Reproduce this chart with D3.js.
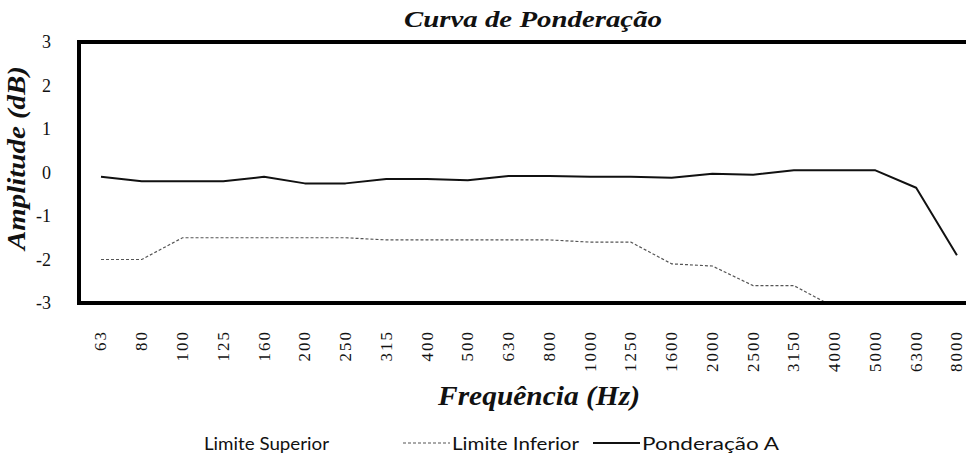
<!DOCTYPE html>
<html>
<head>
<meta charset="utf-8">
<script src="https://cdn.jsdelivr.net/npm/d3@7/dist/d3.min.js"></script>
<style>
  html, body { margin: 0; padding: 0; background: #fff; }
  svg { display: block; }
  .serif { font-family: "Liberation Serif", "Times New Roman", Tinos, Times, serif; }
</style>
</head>
<body>
<svg id="chart" width="966" height="467"></svg>
<script>
// Frequency bands (Hz) along the x axis
const frequencias = ["63","80","100","125","160","200","250","315","400","500","630","800",
                     "1000","1250","1600","2000","2500","3150","4000","5000","6300","8000"];

// Measured A-weighting deviation (dB)
const ponderacaoA = [-0.1,-0.2,-0.2,-0.2,-0.1,-0.25,-0.25,-0.15,-0.15,-0.18,-0.08,-0.08,
                     -0.1,-0.1,-0.12,-0.03,-0.05,0.05,0.05,0.05,-0.35,-1.9];

// Lower tolerance limit (dB); values below the axis floor are not shown
const limiteInferior = [-2.0,-2.0,-1.5,-1.5,-1.5,-1.5,-1.5,-1.55,-1.55,-1.55,-1.55,-1.55,
                        -1.6,-1.6,-2.1,-2.15,-2.6,-2.6,-3.1,null,null,null];

const yTicks = [-3,-2,-1,0,1,2,3];

const legendItems = [
  { label: "Limite Superior", stroke: "#ffffff", dash: null, width: 1 },
  { label: "Limite Inferior", stroke: "#555555", dash: "3,2", width: 1.2 },
  { label: "Ponderação  A",   stroke: "#111111", dash: null, width: 2 }
];

const svg = d3.select("#chart");

const plot = { left: 79, top: 42, right: 980, bottom: 303 };

const x = d3.scaleBand()
  .domain(frequencias)
  .range([80.6, 977.3]);

const y = d3.scaleLinear()
  .domain([-3, 3])
  .range([plot.bottom, plot.top]);

const cx = d => x(d) + x.bandwidth() / 2;

// Clip region = plot area
svg.append("defs").append("clipPath").attr("id", "area")
  .append("rect")
  .attr("x", plot.left).attr("y", plot.top)
  .attr("width", plot.right - plot.left).attr("height", plot.bottom - plot.top);

// Title
svg.append("text")
  .attr("class", "serif")
  .attr("x", 533).attr("y", 27)
  .attr("text-anchor", "middle")
  .attr("font-style", "italic").attr("font-weight", "bold")
  .attr("font-size", 23)
  .attr("textLength", 258).attr("lengthAdjust", "spacingAndGlyphs")
  .attr("fill", "#111")
  .text("Curva de Ponderação");

// Series lines
const line = d3.line()
  .defined(v => v != null)
  .x((v, i) => cx(frequencias[i]))
  .y(v => y(v));

const series = svg.append("g").attr("clip-path", "url(#area)");

series.append("path")
  .datum(limiteInferior)
  .attr("fill", "none")
  .attr("stroke", "#555")
  .attr("stroke-width", 1.2)
  .attr("stroke-dasharray", "3,2")
  .attr("d", line);

series.append("path")
  .datum(ponderacaoA)
  .attr("fill", "none")
  .attr("stroke", "#111")
  .attr("stroke-width", 2)
  .attr("stroke-linejoin", "round")
  .attr("d", line);

// Heavy plot frame (left, top, bottom)
svg.append("rect")
  .attr("x", plot.left).attr("y", plot.top)
  .attr("width", plot.right - plot.left).attr("height", plot.bottom - plot.top)
  .attr("fill", "none")
  .attr("stroke", "#000")
  .attr("stroke-width", 4);

// Y axis labels (plain hyphen for negatives)
const yAxis = d3.axisLeft(y).tickValues(yTicks).tickSize(0).tickPadding(0)
  .tickFormat(d => String(d));
const gy = svg.append("g").attr("transform", "translate(51,0)").call(yAxis);
gy.select(".domain").remove();
gy.selectAll("text")
  .attr("class", "serif")
  .attr("font-size", 18)
  .attr("fill", "#111");
gy.attr("font-family", null);

// Y axis title
svg.append("text")
  .attr("class", "serif")
  .attr("transform", "translate(25,158) rotate(-90)")
  .attr("text-anchor", "middle")
  .attr("font-style", "italic").attr("font-weight", "bold")
  .attr("font-size", 25)
  .attr("textLength", 184).attr("lengthAdjust", "spacingAndGlyphs")
  .attr("fill", "#111")
  .text("Amplitude (dB)");

// X axis labels (rotated)
const xAxis = d3.axisBottom(x).tickSize(0).tickPadding(0);
const gx = svg.append("g").attr("transform", "translate(0,330)").call(xAxis);
gx.select(".domain").remove();
gx.attr("font-family", null);
gx.selectAll("text")
  .attr("class", "serif")
  .attr("font-size", 17)
  .attr("letter-spacing", "2px")
  .attr("fill", "#111")
  .attr("text-anchor", "end")
  .attr("dy", null)
  .attr("y", 0)
  .attr("x", 0)
  .attr("dominant-baseline", "central")
  .attr("transform", "rotate(-90)");

// X axis title
svg.append("text")
  .attr("class", "serif")
  .attr("x", 539).attr("y", 405)
  .attr("text-anchor", "middle")
  .attr("font-style", "italic").attr("font-weight", "bold")
  .attr("font-size", 27)
  .attr("textLength", 202).attr("lengthAdjust", "spacingAndGlyphs")
  .attr("fill", "#111")
  .text("Frequência (Hz)");

// Legend
const legendX = [155, 403, 593];
const legendTextW = [125, 127, 137];
const lg = svg.append("g").attr("transform", "translate(0,443)");
legendItems.forEach((item, i) => {
  const g = lg.append("g").attr("transform", `translate(${legendX[i]},0)`);
  g.append("line")
    .attr("x1", 0).attr("x2", 47).attr("y1", 0).attr("y2", 0)
    .attr("stroke", item.stroke)
    .attr("stroke-width", item.width)
    .attr("stroke-dasharray", item.dash);
  g.append("text")
    .attr("x", 49).attr("y", 0)
    .attr("dominant-baseline", "central")
    .attr("font-family", "Lato, 'Open Sans', sans-serif")
    .attr("font-size", 17)
    .attr("textLength", legendTextW[i]).attr("lengthAdjust", "spacingAndGlyphs")
    .attr("fill", "#111")
    .text(item.label);
});
</script>
</body>
</html>
